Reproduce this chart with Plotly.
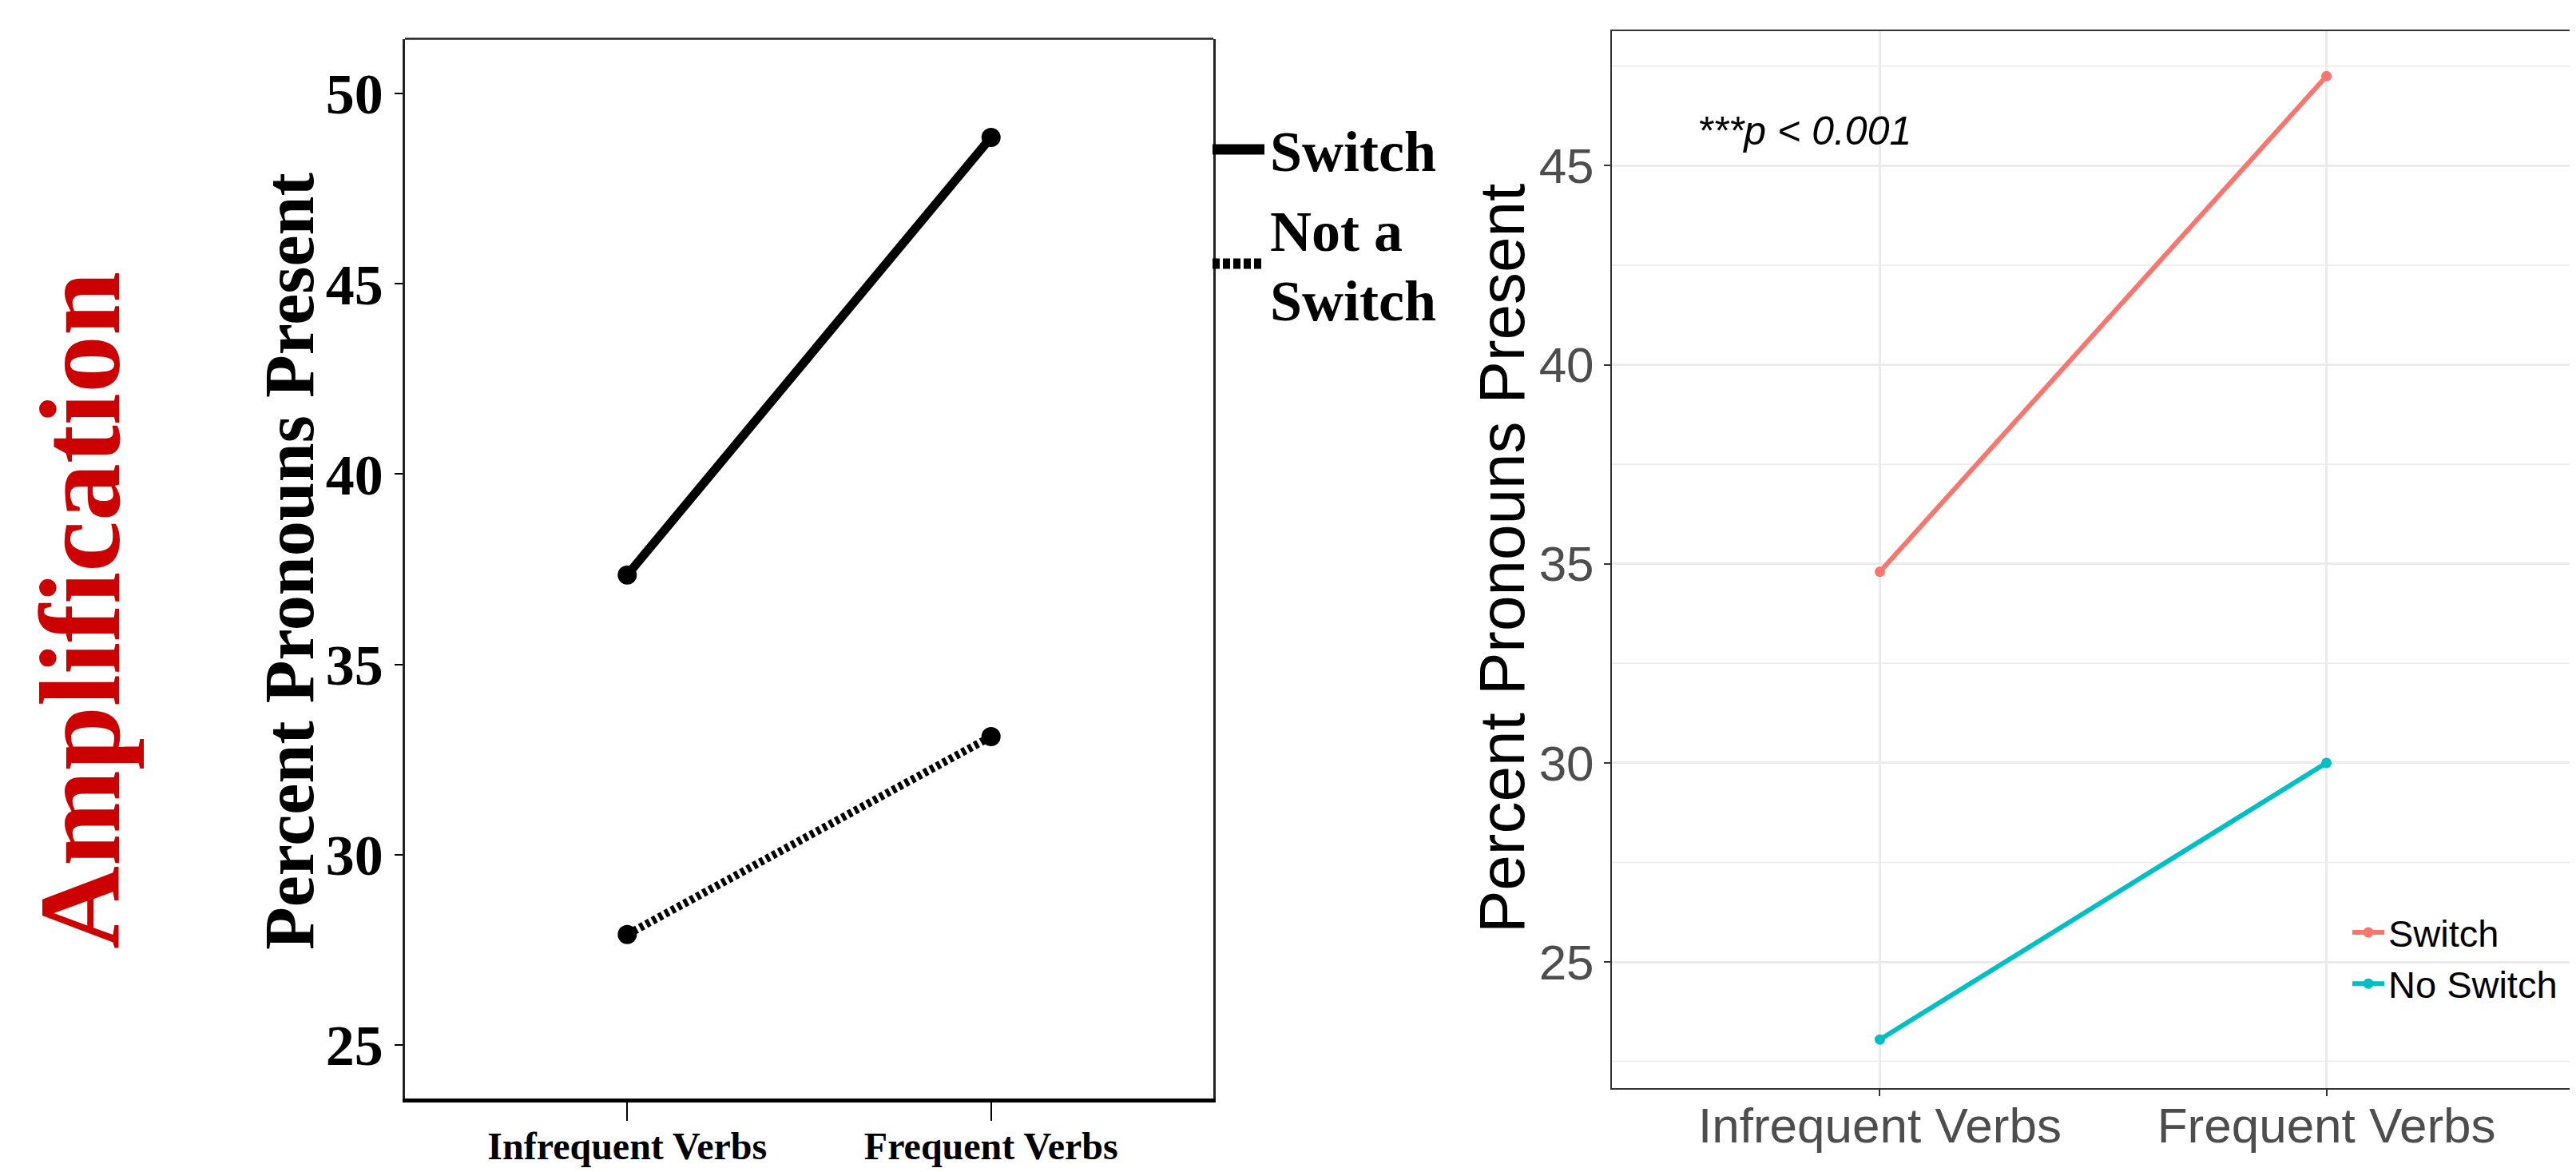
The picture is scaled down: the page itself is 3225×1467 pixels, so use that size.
import plotly.graph_objects as go

# ---------------- data ----------------
categories = ["Infrequent Verbs", "Frequent Verbs"]
cat_pos = [0, 1]

left_switch = [37.35, 48.85]
left_not_switch = [27.9, 33.1]
left_yticks = [25, 30, 35, 40, 45, 50]

right_switch = [34.8, 47.25]
right_no_switch = [23.05, 30.0]
right_yticks = [25, 30, 35, 40, 45]
right_minor = [22.5, 27.5, 32.5, 37.5, 42.5, 47.5]

W, H = 3225, 1467
OFF = 8  # page body margin offset of the rendered div


def fx(px):
    return (px - OFF) / W


def fy(py):
    return 1 - (py - OFF) / H


serif = "Liberation Serif"
sans = "Liberation Sans"

fig = go.Figure()

# ---------------- left panel (SPSS style) ----------------
fig.add_trace(go.Scatter(
    x=cat_pos, y=left_switch, mode="lines+markers", name="Switch",
    line=dict(color="black", width=11),
    marker=dict(color="black", size=24),
    xaxis="x", yaxis="y", showlegend=False))
fig.add_trace(go.Scatter(
    x=cat_pos, y=left_not_switch, mode="lines+markers", name="Not a Switch",
    line=dict(color="black", width=10, dash="5px,4px"),
    marker=dict(color="black", size=24),
    xaxis="x", yaxis="y", showlegend=False))

# ---------------- right panel (ggplot style) ----------------
fig.add_trace(go.Scatter(
    x=cat_pos, y=right_switch, mode="lines+markers", name="Switch",
    line=dict(color="#F8766D", width=6),
    marker=dict(color="#F8766D", size=13),
    xaxis="x2", yaxis="y2", showlegend=True))
fig.add_trace(go.Scatter(
    x=cat_pos, y=right_no_switch, mode="lines+markers", name="No Switch",
    line=dict(color="#00BFC4", width=6),
    marker=dict(color="#00BFC4", size=13),
    xaxis="x2", yaxis="y2", showlegend=True))

# minor gridlines for right panel (horizontal)
for v in right_minor:
    fig.add_shape(type="line", xref="x2 domain", yref="y2",
                  x0=0, x1=1, y0=v, y1=v,
                  line=dict(color="#EBEBEB", width=1.5), layer="below")

fig.update_layout(
    width=W, height=H,
    margin=dict(l=0, r=0, t=0, b=0),
    paper_bgcolor="white", plot_bgcolor="white",
    xaxis=dict(
        domain=[fx(507), fx(1519)], range=[-0.611, 1.611],
        tickvals=cat_pos, ticktext=categories,
        showgrid=False, zeroline=False,
        showline=True, linecolor="black", linewidth=5, mirror=False,
        ticks="outside", ticklen=23, tickwidth=2, tickcolor="black",
        ticklabelstandoff=-10,
        tickfont=dict(family=serif, size=48, color="black", weight="bold"),
        anchor="y"),
    yaxis=dict(
        domain=[fy(1375), fy(48.6)], range=[23.59, 51.44],
        tickvals=left_yticks,
        showgrid=False, zeroline=False,
        showline=True, linecolor="#222222", linewidth=2.5, mirror=True,
        ticks="outside", ticklen=10, tickwidth=2, tickcolor="black",
        tickfont=dict(family=serif, size=72, color="black", weight="bold"),
        anchor="x"),
    xaxis2=dict(
        domain=[fx(2018), 1.0], range=[-0.6, 1.573],
        tickvals=cat_pos, ticktext=categories,
        showgrid=True, gridcolor="#EBEBEB", gridwidth=3, zeroline=False,
        showline=True, linecolor="#333333", linewidth=2, mirror=True,
        ticks="outside", ticklen=8, tickwidth=2, tickcolor="#333333",
        ticklabelstandoff=-16,
        tickfont=dict(family=sans, size=62, color="#4D4D4D"),
        anchor="y2"),
    yaxis2=dict(
        domain=[fy(1362), fy(39)], range=[21.83, 48.38],
        tickvals=right_yticks,
        showgrid=True, gridcolor="#EBEBEB", gridwidth=3, zeroline=False,
        showline=True, linecolor="#333333", linewidth=2, mirror=False,
        ticks="outside", ticklen=8, tickwidth=2, tickcolor="#333333",
        tickfont=dict(family=sans, size=62, color="#4D4D4D"),
        anchor="x2"),
    legend=dict(
        x=fx(2940), y=fy(1130), xanchor="left", yanchor="top",
        bgcolor="rgba(0,0,0,0)", borderwidth=0,
        font=dict(family=sans, size=47, color="black"),
        itemwidth=40, tracegroupgap=0),
    showlegend=True,
)

# top border of left panel
fig.add_shape(type="line", xref="x domain", yref="y domain",
              x0=0, x1=1, y0=1, y1=1, line=dict(color="#222222", width=2.5))

# ---------------- left legend (manual, outside panel) ----------------
fig.add_shape(type="line", xref="paper", yref="paper",
              x0=fx(1518), x1=fx(1583), y0=fy(187), y1=fy(187),
              line=dict(color="black", width=13))
fig.add_shape(type="line", xref="paper", yref="paper",
              x0=fx(1518), x1=fx(1582), y0=fy(330), y1=fy(330),
              line=dict(color="black", width=13, dash="9px,4px"))

annos = []
annos.append(dict(text="<b>Switch</b>", x=fx(1588), y=fy(190),
                  xref="paper", yref="paper", xanchor="left", yanchor="middle",
                  showarrow=False, font=dict(family=serif, size=72, color="black")))
annos.append(dict(text="<b>Not a</b>", x=fx(1588), y=fy(290),
                  xref="paper", yref="paper", xanchor="left", yanchor="middle",
                  showarrow=False, font=dict(family=serif, size=72, color="black")))
annos.append(dict(text="<b>Switch</b>", x=fx(1588), y=fy(377),
                  xref="paper", yref="paper", xanchor="left", yanchor="middle",
                  showarrow=False, font=dict(family=serif, size=72, color="black")))

# left y-axis title
annos.append(dict(text="<b>Percent Pronouns Present</b>", x=fx(362), y=fy(703),
                  xref="paper", yref="paper", xanchor="center", yanchor="middle",
                  textangle=-90, showarrow=False,
                  font=dict(family=serif, size=88, color="black")))

# big red side label
annos.append(dict(text="<b>Amplification</b>", x=fx(100), y=fy(764),
                  xref="paper", yref="paper", xanchor="center", yanchor="middle",
                  textangle=-90, showarrow=False,
                  font=dict(family=serif, size=144, color="#CC0000")))

# right y-axis title
annos.append(dict(text="Percent Pronouns Present", x=fx(1880), y=fy(699),
                  xref="paper", yref="paper", xanchor="center", yanchor="middle",
                  textangle=-90, showarrow=False,
                  font=dict(family=sans, size=80, color="black")))

# p-value annotation
annos.append(dict(text="<i>***p &lt; 0.001</i>", x=fx(2123), y=fy(164),
                  xref="paper", yref="paper", xanchor="left", yanchor="middle",
                  showarrow=False,
                  font=dict(family=sans, size=50, color="black")))

fig.update_layout(annotations=annos)

fig.write_html("out.html")
